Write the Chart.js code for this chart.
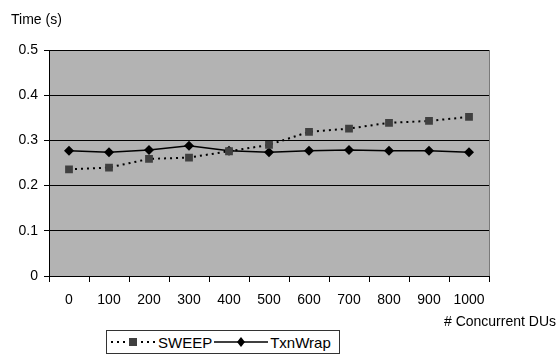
<!DOCTYPE html>
<html>
<head>
<meta charset="utf-8">
<script src="https://cdn.jsdelivr.net/npm/chart.js@4/dist/chart.umd.min.js"></script>
<style>
    body { margin: 0; background: #fff; font-family: "Liberation Sans", Arial, sans-serif; }
    #wrap { position: relative; width: 558px; height: 356px; }
    #legend {
        position: absolute; left: 106px; top: 330px; width: 234px; height: 24px;
        border: 1px solid #333; box-sizing: border-box; background: #fff;
        font-size: 15px; color: #000; display: flex; align-items: center; padding-left: 3px;
        white-space: nowrap;
    }
    #legend svg { vertical-align: middle; flex: none; }
    #legend span { margin: 0 2px 0 2px; }
</style>
</head>
<body>
<div id="wrap">
    <canvas id="timeChart" width="558" height="356"></canvas>
    <div id="legend">
        <svg width="46" height="12"><line x1="1" y1="6" x2="45" y2="6" stroke="#000" stroke-width="2" stroke-dasharray="2,4"/><rect x="19" y="2" width="8" height="8" fill="#404040"/></svg>
        <span>SWEEP</span>
        <svg width="54" height="12"><line x1="0" y1="6" x2="54" y2="6" stroke="#000" stroke-width="1.5"/><polygon points="27,1 31,6 27,11 23,6" fill="#000"/></svg>
        <span>TxnWrap</span>
    </div>
</div>
<script>
    const categories = ['0', '100', '200', '300', '400', '500', '600', '700', '800', '900', '1000'];
    const sweep = [0.236, 0.240, 0.259, 0.262, 0.276, 0.290, 0.319, 0.326, 0.339, 0.343, 0.352];
    const txnWrap = [0.277, 0.274, 0.279, 0.288, 0.277, 0.274, 0.277, 0.279, 0.277, 0.277, 0.274];
    const yTicks = [0, 0.1, 0.2, 0.3, 0.4, 0.5];

    const fontFamily = '"Liberation Sans", Arial, sans-serif';

    // gray plot background + axis titles
    const chartDecor = {
        id: 'chartDecor',
        beforeDraw(chart) {
            const { ctx, chartArea: a } = chart;
            ctx.save();
            ctx.fillStyle = '#b3b3b3';
            ctx.fillRect(a.left, a.top, a.right - a.left, a.bottom - a.top);
            ctx.strokeStyle = '#7a7a7a';
            ctx.lineWidth = 1;
            ctx.beginPath();
            ctx.moveTo(a.right + 0.5, a.top);
            ctx.lineTo(a.right + 0.5, a.bottom);
            ctx.stroke();
            ctx.restore();
        },
        afterDraw(chart) {
            const { ctx } = chart;
            ctx.save();
            ctx.fillStyle = '#000';
            ctx.font = '14px ' + fontFamily;
            ctx.textBaseline = 'middle';
            ctx.textAlign = 'left';
            ctx.fillText('Time (s)', 11, 20);
            ctx.textAlign = 'right';
            ctx.fillText('# Concurrent DUs', 556, 322);
            ctx.restore();
        }
    };

    const ctx = document.getElementById('timeChart').getContext('2d');
    const timeChart = new Chart(ctx, {
        type: 'line',
        data: {
            labels: categories,
            datasets: [{
                label: 'SWEEP',
                data: sweep,
                borderColor: '#000',
                borderWidth: 2,
                borderDash: [2, 4],
                pointStyle: 'rect',
                pointRadius: 5.5,
                pointBackgroundColor: '#404040',
                pointBorderColor: '#404040',
                pointBorderWidth: 0,
                tension: 0
            }, {
                label: 'TxnWrap',
                data: txnWrap,
                borderColor: '#000',
                borderWidth: 1.5,
                pointStyle: 'rectRot',
                pointRadius: 5,
                pointBackgroundColor: '#000',
                pointBorderColor: '#000',
                pointBorderWidth: 0,
                tension: 0
            }]
        },
        options: {
            responsive: false,
            animation: false,
            layout: { padding: { left: 0, top: 50, right: 69, bottom: 0 } },
            plugins: {
                legend: { display: false },
                tooltip: { enabled: false }
            },
            scales: {
                x: {
                    offset: true,
                    grid: {
                        offset: true,
                        drawOnChartArea: false,
                        drawTicks: true,
                        tickLength: 6,
                        tickColor: '#000'
                    },
                    border: { color: '#000', width: 1 },
                    ticks: {
                        color: '#000',
                        padding: 10,
                        maxRotation: 0,
                        font: { family: fontFamily, size: 14 }
                    },
                    afterFit(scale) { scale.height = 80; }
                },
                y: {
                    min: 0,
                    max: 0.5,
                    afterBuildTicks(scale) {
                        scale.ticks = yTicks.map(v => ({ value: v }));
                    },
                    grid: {
                        color: '#000',
                        lineWidth: 1,
                        drawTicks: true,
                        tickLength: 5,
                        tickColor: '#000'
                    },
                    border: { color: '#000', width: 1 },
                    ticks: {
                        color: '#000',
                        padding: 6,
                        font: { family: fontFamily, size: 14 },
                        callback: v => String(Math.round(v * 10) / 10)
                    },
                    afterFit(scale) { scale.width = 49; }
                }
            }
        },
        plugins: [chartDecor]
    });
</script>
</body>
</html>
